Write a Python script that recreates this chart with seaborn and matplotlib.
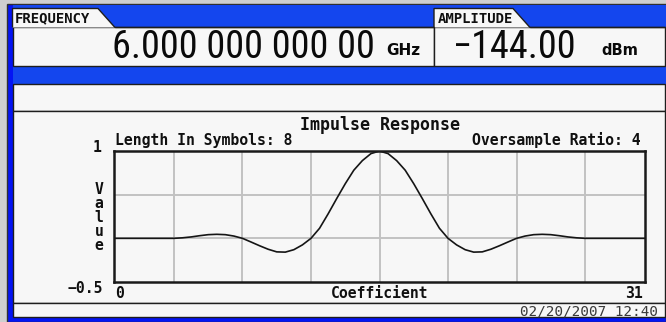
import numpy as np
import matplotlib
matplotlib.use("Agg")
import matplotlib.pyplot as plt
from matplotlib import font_manager
from matplotlib.patches import Rectangle, Polygon
import seaborn as sns

# ---- data -----------------------------------------------------------------
# filter tap index (half-coefficient resolution) and normalised tap value
coefficient = np.arange(0, 31.5, 0.5)
value = [
    0.0, 0.0, 0.0, 0.0, 0.0, 0.0, 0.0, 0.0,                           # 0 .. 3.5
    0.006, 0.016, 0.030, 0.042, 0.046, 0.042, 0.026, 0.0,             # 4 .. 7.5
    -0.042, -0.085, -0.125, -0.155, -0.158, -0.130, -0.075, 0.0,      # 8 .. 11.5
    0.115, 0.280, 0.455, 0.625, 0.780, 0.890, 0.970, 1.0,             # 12 .. 15.5
    0.970, 0.890, 0.780, 0.625, 0.455, 0.280, 0.115, 0.0,             # 16 .. 19.5
    -0.075, -0.130, -0.158, -0.155, -0.125, -0.085, -0.042, 0.0,      # 20 .. 23.5
    0.026, 0.042, 0.046, 0.042, 0.030, 0.016, 0.006, 0.0,             # 24 .. 27.5
    0.0, 0.0, 0.0, 0.0, 0.0, 0.0, 0.0,                                # 28 .. 31
]

x_range = (0, 31)
y_range = (-0.5, 1.0)
x_grid = [3.5, 7.5, 11.5, 15.5, 19.5, 23.5, 27.5]
y_grid = [0.0, 0.5]

title = "Impulse Response"
length_label = "Length In Symbols: 8"
ratio_label = "Oversample Ratio: 4"
y_label = "Value"
x_label = "Coefficient"
y_tick_labels = ["1", "\u22120.5"]
x_tick_labels = ["0", "31"]

freq_title = "FREQUENCY"
freq_value = "6.000 000 000 00"
freq_unit = "GHz"
amp_title = "AMPLITUDE"
amp_value = "\u2212144.00"
amp_unit = "dBm"
timestamp = "02/20/2007 12:40"

# ---- style ------------------------------------------------------------------
sns.set_style("white")


def pick_font(names, fallback="DejaVu Sans"):
    for name in names:
        try:
            font_manager.findfont(font_manager.FontProperties(family=name),
                                  fallback_to_default=False)
            return name
        except Exception:
            continue
    return fallback


narrow = pick_font(["Liberation Sans Narrow", "Roboto Condensed",
                    "Open Sans Condensed", "DejaVu Sans Condensed"])
mono = "DejaVu Sans Mono"
plt.rcParams["font.family"] = [mono, "DejaVu Sans"]

W, H = 666, 322
fig = plt.figure(figsize=(W / 100, H / 100), dpi=100)
fig.patch.set_facecolor("#cfcfcf")

# full-figure canvas in pixel units (y grows downward)
bg = fig.add_axes([0, 0, 1, 1])
bg.set_xlim(0, W)
bg.set_ylim(H, 0)
bg.axis("off")

panel = "#f7f7f7"
edge = "#1e1e1e"
blue_border = "#0414f4"
blue_band = "#1446ee"

# outer frame
bg.add_patch(Rectangle((7, 3.5), W - 7, H - 3.5, facecolor=blue_border,
                       edgecolor="#303030", lw=1.0))
# header band and middle band
bg.add_patch(Rectangle((12.5, 4.5), W - 12.5, 22.5, facecolor=blue_band, lw=0))
bg.add_patch(Rectangle((12.5, 65.5), W - 12.5, 18, facecolor=blue_band, lw=0))

# white boxes
boxes = [(12.5, 27, 434 - 12.5, 38.5),
         (434, 27, W - 434 - 1.5, 38.5),
         (12.5, 84, W - 12.5 - 1.5, 27),
         (12.5, 111, W - 12.5 - 1.5, 191.7),
         (12.5, 302.7, W - 12.5 - 1.5, 14.5)]
for (x0, y0, w, h) in boxes:
    bg.add_patch(Rectangle((x0, y0), w, h, facecolor=panel,
                           edgecolor=edge, lw=1.0))

# tabs on the header
for (x0, x1, x2) in [(12.5, 98, 115), (434, 513, 530)]:
    bg.add_patch(Polygon([(x0, 27.5), (x0, 8.5), (x1, 8.5), (x2, 27.5)],
                         closed=False, facecolor=panel, edgecolor=edge, lw=1.0))
bg.plot([115, 434], [27, 27], color=edge, lw=1.0)
bg.plot([530, W - 1.5], [27, 27], color=edge, lw=1.0)

# header text
bg.text(15, 22.5, freq_title, fontsize=10, fontweight="bold", family=mono,
        ha="left", va="baseline", color="#101010")
bg.text(438, 22.5, amp_title, fontsize=10, fontweight="bold", family=mono,
        ha="left", va="baseline", color="#101010")
bg.text(112, 58.3, freq_value, fontsize=27.5, family=narrow,
        ha="left", va="baseline", color="#0a0a0a")
bg.text(386, 55, freq_unit, fontsize=11, fontweight="bold", family="DejaVu Sans",
        ha="left", va="baseline", color="#0a0a0a")
bg.text(453, 58.3, amp_value, fontsize=27.5, family=narrow,
        ha="left", va="baseline", color="#0a0a0a")
bg.text(601, 55, amp_unit, fontsize=10.5, fontweight="bold", family="DejaVu Sans",
        ha="left", va="baseline", color="#0a0a0a")

# graph annotations
bold = dict(fontweight="bold", family=mono, color="#101010", va="baseline")
bg.text(380, 129.5, title, fontsize=12, ha="center", **bold)
bg.text(115, 145, length_label, fontsize=10.6, ha="left", **bold)
bg.text(641, 145, ratio_label, fontsize=10.6, ha="right", **bold)
bg.text(102, 151.5, y_tick_labels[0], fontsize=10.6, ha="right", **bold)
bg.text(103, 293.3, y_tick_labels[1], fontsize=10.6, ha="right", **bold)
bg.text(115, 297.5, x_tick_labels[0], fontsize=10.6, ha="left", **bold)
bg.text(643, 297.5, x_tick_labels[1], fontsize=10.6, ha="right", **bold)
bg.text(380, 297.5, x_label, fontsize=10.6, ha="center", **bold)
for i, ch in enumerate(y_label):
    bg.text(99, 193.5 + i * 14.1, ch, fontsize=10.6, ha="center", **bold)
bg.text(658, 315.5, timestamp, fontsize=10.3, family=mono, ha="right",
        va="baseline", color="#3a3a3a")

# ---- impulse response plot -----------------------------------------------
left, right, top, bottom = 114, 645, 151, 282
ax = fig.add_axes([left / W, 1 - bottom / H, (right - left) / W, (bottom - top) / H])
ax.set_facecolor(panel)
sns.lineplot(x=coefficient, y=value, ax=ax, color="#151515", linewidth=1.2)
ax.set_xlim(*x_range)
ax.set_ylim(*y_range)
ax.set_xticks(x_grid)
ax.set_yticks(y_grid)
ax.tick_params(length=0, labelbottom=False, labelleft=False)
ax.grid(True, color="#c2c2c2", linewidth=1.4)
ax.set_axisbelow(True)
ax.set_xlabel("")
ax.set_ylabel("")
for s in ax.spines.values():
    s.set_visible(True)
    s.set_color("#1a1a1a")
    s.set_linewidth(1.8)

fig.savefig("out.png", dpi=100, facecolor=fig.get_facecolor())
